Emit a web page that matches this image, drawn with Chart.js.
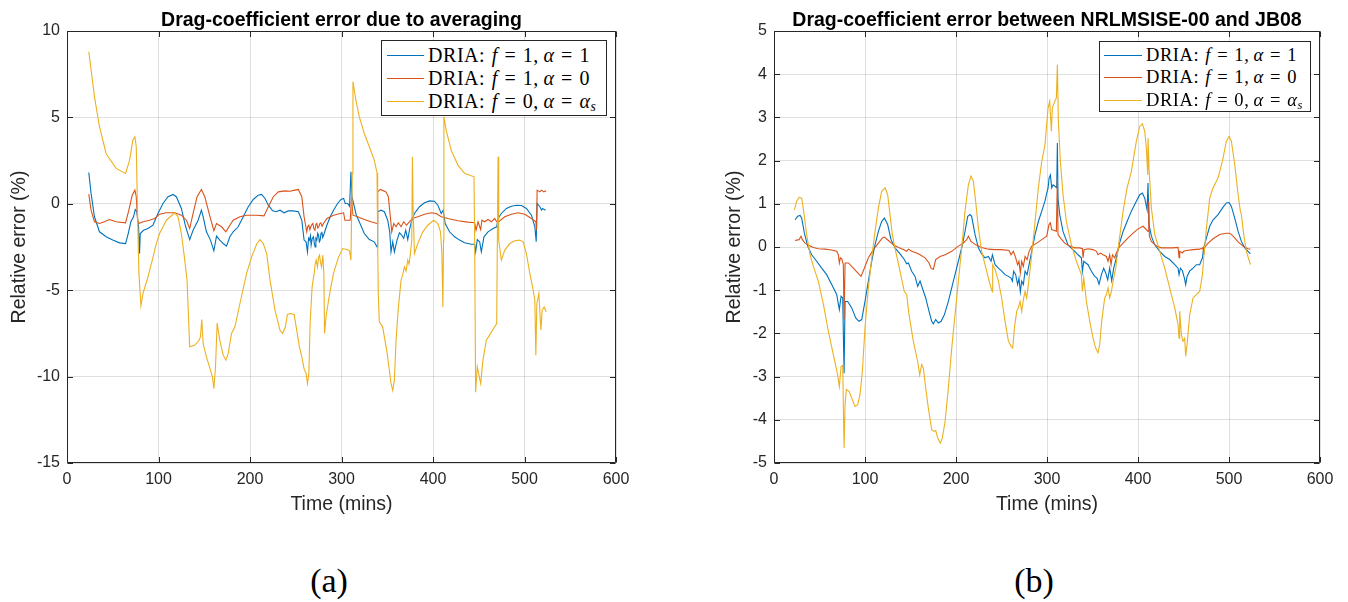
<!DOCTYPE html>
<html>
<head>
<meta charset="utf-8">
<script src="https://cdn.jsdelivr.net/npm/chart.js@4.4.1/dist/chart.umd.min.js"></script>
<style>
  html, body { margin: 0; padding: 0; background: #fff; }
  body { width: 1348px; height: 602px; position: relative; overflow: hidden; }
  canvas { position: absolute; top: 0; }
  #chartA { left: 0; }
  #chartB { left: 700px; }
  .legend { position: absolute; background: #fff; border: 1px solid #262626; box-sizing: border-box;
            font-family: 'Liberation Serif', 'DejaVu Serif', serif; color: #000; }
  .legend .row { position: absolute; left: 0; right: 0; height: 0; }
  .legend .swatch { position: absolute; height: 1px; top: 0; }
  .legend .lbl { position: absolute; top: 0; line-height: 1; transform: translateY(-50%); white-space: nowrap;
                 letter-spacing: 0.55px; word-spacing: 1px; }
  .legend sub { font-size: 0.68em; vertical-align: -0.25em; line-height: 0; }
  .panel { position: absolute; font-family: 'Liberation Serif', serif; font-size: 34px; color: #000;
           transform: translate(-50%, -50%); line-height: 1; }
</style>
</head>
<body>
<canvas id="chartA" width="700" height="540"></canvas>
<canvas id="chartB" width="648" height="540"></canvas>
<div id="legA" class="legend"></div>
<div id="legB" class="legend"></div>
<div class="panel" style="left:329px; top:581px">(a)</div>
<div class="panel" style="left:1034px; top:581px">(b)</div>

<script>
// ---- Series styling and labels -------------------------------------------
const seriesColors = ['#0072BD', '#D95319', '#EDB120'];
const seriesLabels = [
  'DRIA: <i>f</i> = 1,&thinsp;<i>α</i> = 1',
  'DRIA: <i>f</i> = 1,&thinsp;<i>α</i> = 0',
  'DRIA: <i>f</i> = 0,&thinsp;<i>α</i> = <i>α<sub>s</sub></i>'
];

// ---- Tick values ----------------------------------------------------------
const xTicks = [0, 100, 200, 300, 400, 500, 600];
const yTicksA = [-15, -10, -5, 0, 5, 10];
const yTicksB = [-5, -4, -3, -2, -1, 0, 1, 2, 3, 4, 5];

// ---- (a) Drag-coefficient error due to averaging: [time (mins), error (%)] --
const avgBlue = [[23.8,1.81],[26.3,0.6],[30,-0.75],[35.5,-1.62],[42.8,-1.91],[50,-2.1],[57.4,-2.26],[64,-2.3],[66.9,-1.72],[69.8,-1.04],[72.7,-0.75],[74.6,-0.33],[76.4,-0.46],[78.2,-1.33],[79.3,-2.88],[80,-1.72],[83.7,-1.53],[88.5,-1.43],[93.9,-1.24],[99.4,-0.56],[104.9,0.02],[110.4,0.41],[115.9,0.54],[119.5,0.41],[125,-0.27],[129.7,-1.33],[134.1,-2.07],[137.8,-1.53],[143.3,-0.95],[146.9,-0.37],[148.8,-0.75],[152.4,-1.62],[156.8,-2.1],[160.5,-2.72],[163.4,-1.87],[167,-2.1],[170.7,-2.3],[174.3,-2.45],[178,-1.91],[181.6,-1.62],[187.1,-1.33],[192.6,-0.75],[198.1,-0.17],[203.6,0.25],[209,0.5],[212.7,0.54],[216.4,0.31],[220,-0.08],[224.8,-0.41],[228.3,-0.46],[232.8,-0.37],[237.2,-0.52],[241.9,-0.41],[247.4,-0.41],[252.9,-0.46],[256.6,-0.95],[259.1,-2.1],[261.3,-2.2],[262.8,-2.78],[264,-2.0],[265,-2.1],[266,-1.85],[266.8,-2.39],[268,-2.0],[269.4,-1.91],[270.3,-2.3],[271.2,-2.49],[272,-2.0],[273,-2.1],[274,-1.7],[274.9,-1.81],[275.8,-2.2],[276.7,-2.1],[277.6,-1.7],[278.5,-1.62],[279.5,-1.95],[281.1,-1.72],[284,-1.24],[287.7,-0.75],[291.3,-0.37],[295.7,0.02],[299.4,0.25],[302.3,0.31],[304.1,0.02],[306.7,0.02],[308.8,-0.14],[310.3,1.85],[311.4,0.41],[314,-0.17],[316.2,-0.66],[319.4,-1.04],[324.9,-1.72],[330.4,-2.07],[335.8,-2.2],[338.8,-2.49],[339.5,-0.46],[343.2,-0.37],[346.8,-0.46],[350.5,-0.95],[352.7,-1.62],[354.1,-2.78],[356,-2.2],[357.8,-2.78],[360.7,-2.1],[363.3,-1.68],[365.8,-1.81],[368,-2.0],[370.2,-1.53],[372.4,-2.07],[374.6,-1.43],[376.8,-0.95],[379.7,-0.56],[385.2,-0.17],[390.7,0.06],[396.2,0.17],[401.6,0.15],[405.3,-0.08],[409,-0.56],[411.1,-0.37],[413.3,-1.14],[418.1,-1.62],[423.6,-1.91],[429.1,-2.1],[434.5,-2.26],[441.8,-2.34],[445.5,-2.34],[446.6,-2.78],[448.4,-2.07],[451,-2.2],[452.8,-2.78],[455.7,-1.91],[460.1,-1.62],[465.6,-1.43],[469.6,-1.33],[471.1,-0.85],[474.7,-0.56],[480.2,-0.27],[485.7,-0.14],[491.2,-0.08],[496.7,-0.1],[502.1,-0.27],[507.6,-0.66],[511.3,-1.33],[512.8,-2.2],[513.8,0.02],[516.8,-0.17],[518.6,-0.37],[519.7,-0.27],[523,-0.37]];

const avgRed = [[23.8,0.56],[26.3,-0.37],[30,-1.04],[35.5,-1.14],[40.9,-1.04],[46.4,-0.91],[53.7,-1.04],[64,-1.1],[67.6,-0.37],[71.3,0.5],[74.2,0.79],[75.7,0.41],[77.1,-0.95],[78.6,-1.14],[83,-1.04],[90.3,-0.95],[95.8,-0.85],[101.2,-0.6],[108.6,-0.52],[117.7,-0.52],[125,-0.66],[130.5,-0.95],[134.1,-1.43],[137.8,-0.56],[142.2,0.41],[146.9,0.83],[150.6,0.41],[155.3,-0.56],[160.5,-1.56],[163.4,-1.14],[168.9,-1.33],[173.6,-1.62],[178,-1.24],[181.6,-0.95],[189,-0.75],[196.3,-0.66],[207.2,-0.66],[215.3,-0.7],[220,-0.17],[225.5,0.41],[231,0.69],[238.3,0.75],[243.8,0.73],[249.3,0.79],[252.9,0.83],[256.6,0.41],[259.1,-0.75],[262,-1.62],[263.2,-1.3],[264.3,-1.24],[265.4,-1.5],[266.5,-1.33],[267.6,-1.2],[268.7,-1.14],[269.8,-1.45],[271,-1.53],[272,-1.2],[273,-1.14],[274.1,-1.4],[275.2,-1.33],[276.3,-1.15],[277.4,-1.1],[278.8,-1.3],[280.3,-1.14],[284,-0.85],[291.3,-0.66],[298.7,-0.56],[302.3,-0.52],[303.7,-0.95],[309.5,-0.95],[311,0.41],[312.5,-0.66],[317.6,-0.75],[324.9,-0.91],[332.2,-1.04],[338.8,-1.14],[339.5,0.69],[342.4,0.83],[348.6,0.69],[351.2,0.41],[353.4,-0.75],[354.9,-1.62],[357.1,-1.14],[359.6,-1.33],[362.2,-1.1],[365.1,-1.33],[368,-1.04],[371,-1.24],[374.2,-1.04],[377.5,-0.85],[383.4,-0.75],[390.7,-0.6],[398,-0.52],[403.5,-0.56],[409,-0.75],[416.3,-0.85],[427.2,-0.98],[438.2,-1.06],[445.5,-1.1],[447,-1.53],[449.2,-1.04],[452.1,-1.49],[453.5,-0.95],[456.5,-1.04],[460.1,-0.91],[463.8,-1.04],[467.4,-0.85],[469.6,-1.04],[471.8,-1.04],[478.4,-0.75],[485.7,-0.6],[493,-0.52],[500.3,-0.6],[507.6,-0.85],[512.4,-1.04],[513.1,-1.53],[513.8,0.79],[516.8,0.69],[518.6,0.79],[521.1,0.69],[523.7,0.75]];

const avgYellow = [[23.8,8.8],[30,6.2],[35.5,4.46],[42.8,2.9],[53.7,2.05],[64,1.76],[68.4,2.53],[72,3.69],[74.2,3.88],[75.7,3.3],[77.1,-0.56],[78.6,-4.03],[80.8,-5.9],[83,-5.19],[88.5,-4.23],[93.2,-3.26],[97.6,-2.3],[101.2,-1.72],[108.6,-0.95],[117.7,-0.52],[121.3,-0.75],[125,-1.72],[128.7,-3.26],[131.2,-4.42],[134.1,-8.28],[139.6,-8.19],[144.4,-7.9],[145.8,-7.7],[147.3,-6.7],[148.8,-8.1],[152.4,-8.86],[156.8,-9.63],[159,-10.02],[160.5,-10.7],[162.3,-9.44],[164.1,-6.9],[167,-7.9],[170.7,-8.76],[173.6,-9.05],[176.2,-8.67],[179.8,-7.5],[183.5,-7.12],[189,-5.77],[196.3,-4.03],[201.8,-3.07],[207.2,-2.34],[210.9,-2.07],[214.5,-2.3],[218.2,-2.88],[221.9,-4.42],[227.3,-6.16],[232.8,-7.32],[235.7,-7.5],[238.7,-7.12],[240.9,-6.4],[244.5,-6.35],[248.2,-6.4],[251.1,-7.32],[254,-8.28],[256.6,-8.86],[259.1,-9.54],[261.3,-9.83],[262.8,-10.4],[264.3,-9.83],[265.7,-6.93],[267.9,-4.8],[270.1,-4.03],[271.2,-3.5],[272.3,-3.26],[273.8,-3.65],[274.9,-3.1],[276,-2.97],[277.1,-3.4],[278.2,-3.65],[279.6,-2.97],[280.7,-4.03],[281.5,-7.5],[283.3,-6.45],[287.7,-5],[291.3,-4.03],[296.8,-3.07],[301.5,-2.59],[305.9,-2.64],[308.8,-2.72],[310.3,-3.26],[311.8,1.76],[312.5,7.07],[315.7,6.0],[319.4,5.04],[324.9,4.07],[330.4,3.3],[335.8,2.53],[338.8,1.8],[339.5,-2.1],[340.2,-5.19],[341.3,-6.83],[345,-7.12],[347.5,-7.9],[349.7,-8.57],[352.3,-9.63],[354.1,-10.4],[356,-10.8],[357.8,-10.2],[359.6,-7.9],[362.2,-5.97],[365.1,-4.42],[366.9,-4.1],[368.7,-3.65],[370.5,-3.9],[372.4,-3.26],[373.8,-3.5],[375.3,-2.88],[376.8,-2.1],[377.5,2.72],[378.2,-0.17],[379.7,-2.88],[383.4,-2.3],[388.8,-1.62],[394.3,-1.24],[400.9,-0.95],[405.3,-1.14],[408.2,-1.62],[409.7,-2.88],[410.8,-5.97],[411.5,-2.1],[411.9,5.04],[414.4,4.27],[419.9,3.1],[427.2,2.24],[434.5,1.76],[444.8,1.56],[445.5,-2.1],[446.6,-10.9],[448.4,-9.44],[449.9,-9.83],[452.1,-10.4],[454.6,-9.05],[458.3,-7.9],[463,-7.5],[467.4,-7.12],[469.6,-6.93],[471.1,2.72],[471.8,-2.1],[474.7,-3.26],[478.4,-2.68],[483.9,-2.3],[489.4,-2.14],[494.8,-2.1],[498.5,-2.2],[502.1,-2.88],[505.8,-4.03],[509.5,-5],[511.3,-5.58],[512.4,-8.76],[513.5,-5.77],[515.7,-5.19],[517.9,-7.32],[519.3,-6.16],[521.5,-5.97],[523.7,-6.25]];

// ---- (b) Drag-coefficient error between NRLMSISE-00 and JB08 ---------------
const jbBlue = [[23.1,0.63],[26,0.71],[28.6,0.73],[30.4,0.67],[33.4,0.32],[37,0.02],[41.4,-0.18],[46.9,-0.33],[52.4,-0.49],[57.9,-0.64],[63.4,-0.87],[68.9,-1.1],[71.8,-1.45],[73.7,-1.14],[75.5,-1.18],[77,-2.92],[78.1,-1.26],[81,-1.26],[85.4,-1.41],[89.8,-1.64],[93.4,-1.72],[96.4,-1.68],[100,-1.26],[103.7,-0.79],[107.4,-0.33],[111,0.05],[114.7,0.36],[118.3,0.59],[121.3,0.67],[124.9,0.52],[128.6,0.17],[133,-0.02],[138.5,-0.16],[143.2,-0.29],[145.8,-0.39],[147.7,-0.37],[151.3,-0.56],[155,-0.68],[157.9,-0.91],[160.5,-0.79],[163,-0.95],[166.7,-1.18],[170.4,-1.49],[173.3,-1.72],[175.1,-1.78],[177.7,-1.68],[180.6,-1.76],[183.6,-1.72],[187.2,-1.57],[191.6,-1.26],[197.1,-0.79],[202.6,-0.33],[207,0.05],[209.9,0.36],[212.9,0.71],[215.4,0.75],[217.2,0.71],[220.9,0.29],[224.6,-0.02],[228.2,-0.16],[231.9,-0.25],[235.6,-0.22],[238.5,-0.33],[240,-0.18],[242.9,-0.41],[246.6,-0.49],[250.2,-0.56],[253.9,-0.64],[257.6,-0.68],[260.5,-0.72],[261.9,-0.79],[263.4,-0.56],[265.6,-0.64],[267.7,-0.87],[269.2,-0.72],[270.7,-1.04],[272.2,-0.79],[274,-0.87],[275.9,-0.56],[278.1,-0.64],[279.5,-0.49],[283.2,-0.1],[286.9,0.29],[290.5,0.59],[294.2,0.83],[297.8,1.06],[299.3,1.21],[301.2,1.37],[302.3,1.6],[303.7,1.67],[305.2,1.37],[306.7,1.44],[309.2,1.4],[310.7,1.37],[311.4,2.41],[312.1,1.13],[314,0.75],[317.6,0.36],[323.1,0.05],[328.6,-0.06],[334.1,-0.18],[337.8,-0.25],[338.9,-0.56],[340.4,-0.33],[345.1,-0.41],[348.8,-0.56],[352.4,-0.68],[355,-0.72],[357.2,-0.86],[359.8,-0.64],[362.3,-0.49],[364.5,-0.6],[366.7,-0.76],[368.9,-0.49],[371.1,-0.78],[373.3,-0.49],[376.2,-0.25],[379.2,0.05],[383.6,0.36],[388,0.59],[392.7,0.83],[398.2,1.06],[401.9,1.21],[404.8,1.25],[407.4,1.13],[410,0.86],[411,1.48],[412.1,0.52],[414.7,0.25],[418.4,0.05],[423.9,-0.1],[429.4,-0.22],[434.9,-0.29],[440.4,-0.41],[444,-0.49],[445.1,-0.64],[446.6,-0.49],[448.8,-0.55],[451,-0.72],[452.4,-0.87],[453.9,-0.68],[456.8,-0.56],[460.5,-0.49],[464.2,-0.41],[467.8,-0.41],[470.8,-0.25],[472.2,-0.02],[475.2,0.21],[478.8,0.48],[482.5,0.63],[488,0.75],[492.7,0.9],[497.1,1.02],[500.1,1.03],[502.6,0.94],[506.3,0.67],[510,0.36],[513.6,0.13],[517.3,-0.02],[520.9,-0.1],[523.5,-0.16]];

const jbRed = [[23.1,0.15],[27.5,0.17],[29.7,0.25],[31.2,0.17],[34.1,0.09],[37.8,0.04],[43.3,-0.01],[48.7,-0.04],[56.1,-0.05],[63.4,-0.07],[68.9,-0.1],[70.7,-0.18],[71.8,-0.37],[72.9,-0.25],[74.4,-0.27],[76.2,-0.41],[77,-1.68],[78.1,-0.37],[81.7,-0.37],[87.2,-0.49],[92,-0.6],[95.6,-0.68],[99.3,-0.49],[103.7,-0.25],[109.2,-0.06],[114.7,0.09],[119.1,0.21],[121.3,0.23],[125.7,0.15],[131.2,0.05],[136.7,-0.01],[142.2,-0.06],[145.8,-0.1],[147.7,-0.05],[151.3,-0.1],[156.8,-0.14],[160.5,-0.18],[166,-0.25],[170.4,-0.37],[172.6,-0.49],[175.1,-0.52],[177.7,-0.29],[182.5,-0.22],[188,-0.18],[195.3,-0.1],[202.6,0.02],[208.1,0.09],[211.7,0.17],[213.6,0.25],[216.5,0.13],[221.6,0.05],[228.2,-0.01],[235.6,-0.05],[242.9,-0.06],[250.2,-0.06],[258.3,-0.08],[260.5,-0.18],[263,-0.1],[265.6,-0.25],[267.7,-0.41],[269.2,-0.33],[270.7,-0.6],[272.2,-0.33],[274,-0.45],[275.9,-0.22],[278.1,-0.29],[280.3,-0.1],[283.2,0.02],[288.7,0.09],[294.2,0.17],[299.7,0.25],[302.2,0.52],[303.7,0.56],[305.2,0.4],[308.5,0.38],[310.3,0.36],[311.4,1.6],[312.1,0.29],[314.7,0.21],[319.5,0.09],[325,0.02],[330.5,-0.02],[336,-0.02],[338.9,-0.04],[339.6,-0.25],[340.7,-0.06],[345.1,-0.04],[350.6,-0.06],[354.3,-0.1],[356.1,-0.18],[358.7,-0.14],[361.6,-0.18],[365.3,-0.22],[367.1,-0.33],[368.9,-0.18],[370.4,-0.41],[371.9,-0.18],[374.4,-0.25],[376.2,-0.14],[379.2,-0.01],[383.6,0.09],[389.1,0.21],[394.6,0.32],[400.1,0.42],[405.6,0.48],[409.2,0.4],[411,0.36],[411.8,1.06],[412.5,0.25],[414.7,0.13],[420.2,0.02],[425.7,-0.02],[431.2,-0.02],[438.5,-0.02],[444,-0.01],[445.1,-0.25],[445.8,-0.1],[448.8,-0.14],[450.2,-0.1],[453.2,-0.08],[460.5,-0.06],[467.8,-0.05],[471.5,-0.02],[472.2,-0.18],[473.3,-0.01],[477,0.09],[482.5,0.19],[489.8,0.29],[497.1,0.32],[500.8,0.32],[504.5,0.25],[510,0.12],[515.4,0.02],[520.9,-0.04],[523.5,-0.05]];

const jbYellow = [[22.4,0.86],[24.9,1.06],[27.5,1.15],[30.4,1.13],[32.6,0.83],[35.9,0.29],[39.6,-0.18],[43.3,-0.45],[48.7,-0.79],[54.3,-1.33],[59.7,-1.95],[65.2,-2.49],[70,-2.96],[71.8,-3.23],[73.7,-2.76],[75.5,-2.74],[77,-4.65],[78.1,-3.65],[79.5,-3.3],[82.5,-3.34],[85.4,-3.5],[89,-3.69],[92,-3.65],[94.5,-3.42],[97.1,-2.88],[100,-1.87],[103.7,-0.95],[107.4,-0.25],[111,0.36],[114.7,0.9],[118.3,1.29],[122,1.37],[124.9,1.21],[127.5,0.75],[130,0.29],[133.7,-0.1],[138.5,-0.56],[143.2,-1.03],[145.8,-1.1],[148.4,-1.57],[153.1,-2.18],[157.9,-2.65],[160.1,-2.96],[162.3,-2.72],[164.1,-2.8],[166.7,-3.26],[169.6,-3.73],[173.3,-4.23],[175.9,-4.27],[177.7,-4.25],[179.9,-4.42],[182.8,-4.54],[185,-4.42],[188,-4.04],[191.6,-3.26],[195.3,-2.34],[198.9,-1.57],[202.6,-0.79],[206.3,-0.02],[209.9,0.83],[213.6,1.44],[216.5,1.64],[219.1,1.52],[221.6,1.06],[224.6,0.44],[228.2,-0.1],[231.9,-0.41],[235.6,-0.72],[238.5,-0.95],[240,-1.04],[240.3,-0.41],[242.9,-0.52],[246.6,-0.79],[250.2,-1.18],[253.9,-1.72],[257.6,-2.18],[260.5,-2.3],[262.3,-2.34],[264.2,-1.87],[266.7,-1.49],[268.5,-1.41],[270.4,-1.26],[272.2,-1.49],[274,-1.22],[275.9,-1.03],[277.7,-1.18],[279.5,-0.87],[283.2,-0.18],[286.9,0.59],[290.5,1.37],[294.2,1.98],[297.8,2.37],[299.3,2.75],[301.2,3.22],[303,3.37],[304.8,2.68],[305.9,3.22],[308.5,3.37],[310.3,3.45],[311.4,4.22],[312.5,2.91],[314.7,1.98],[317.6,1.21],[321.3,0.59],[326.8,0.05],[332.3,-0.33],[337.8,-0.64],[338.9,-1.03],[340.4,-0.72],[343.3,-1.26],[347,-1.72],[350.6,-2.11],[353.5,-2.34],[356.1,-2.45],[357.9,-2.26],[360.1,-1.72],[363.4,-1.18],[365.3,-1.1],[367.1,-0.95],[368.9,-1.18],[370.8,-1.03],[372.6,-0.79],[375.5,-0.49],[379.2,0.13],[383.6,0.83],[388,1.37],[392.7,1.75],[398.2,2.45],[401.9,2.79],[404.8,2.85],[407.4,2.68],[409.2,2.29],[410.7,1.67],[411,2.52],[412.1,1.83],[414.7,0.9],[418.4,0.29],[423.9,-0.1],[429.4,-0.49],[434.9,-0.95],[440.4,-1.41],[444,-1.8],[445.1,-2.11],[445.8,-1.49],[447.7,-2.03],[449.5,-2.18],[451.3,-2.11],[452.4,-2.53],[453.9,-2.26],[456.8,-1.57],[460.5,-1.18],[464.2,-1.1],[467.8,-1.03],[470.8,-0.64],[472.2,-0.25],[475.2,0.44],[478.8,1.13],[482.5,1.37],[488,1.6],[492.7,1.98],[497.1,2.45],[500.1,2.56],[502.6,2.45],[506.3,1.91],[510,1.21],[512.5,0.83],[513.6,0.75],[516.2,0.29],[519.1,-0.1],[523.5,-0.41]];

// ---- Axes frame: full box with inward tick marks on all four sides --------
const axesFrame = {
  id: 'axesFrame',
  afterDatasetsDraw(chart) {
    const { ctx, chartArea: a, scales: { x, y } } = chart;
    const L = Math.round(a.left) + 0.5, R = Math.round(a.right) - 0.5;
    const T = Math.round(a.top) + 0.5, B = Math.round(a.bottom) - 0.5;
    const tl = 5.5;
    ctx.save();
    ctx.strokeStyle = '#262626';
    ctx.lineWidth = 1;
    ctx.beginPath();
    ctx.rect(L, T, R - L, B - T);
    x.ticks.forEach(t => {
      const px = Math.round(x.getPixelForValue(t.value)) + 0.5;
      ctx.moveTo(px, B); ctx.lineTo(px, B - tl);
      ctx.moveTo(px, T); ctx.lineTo(px, T + tl);
    });
    y.ticks.forEach(t => {
      const py = Math.round(y.getPixelForValue(t.value)) + 0.5;
      ctx.moveTo(L, py); ctx.lineTo(L + tl, py);
      ctx.moveTo(R, py); ctx.lineTo(R - tl, py);
    });
    ctx.stroke();
    ctx.restore();
  }
};

const gridColor = 'rgba(38,38,38,0.15)';
const sansFont = "'Liberation Sans', Arial, sans-serif";

function toPoints(pairs) { return pairs.map(p => ({ x: p[0], y: p[1] })); }

function makeChart(canvasId, cfg) {
  const datasets = cfg.series.map((s, i) => ({
    label: cfg.names[i],
    data: toPoints(s),
    borderColor: seriesColors[i],
    borderWidth: 1.1,
    pointRadius: 0,
    tension: 0,
    fill: false,
    order: 2 - i
  }));
  return new Chart(document.getElementById(canvasId), {
    type: 'line',
    data: { datasets },
    options: {
      responsive: false,
      animation: false,
      events: [],
      layout: { padding: { left: 0, top: 0, right: cfg.padRight, bottom: 0 } },
      plugins: {
        legend: { display: false },
        tooltip: { enabled: false },
        title: {
          display: true, text: cfg.title, fullSize: false, color: '#000',
          font: { family: sansFont, size: 19.5, weight: 'bold', lineHeight: 1 },
          padding: { top: 11, bottom: 0.5 }
        }
      },
      scales: {
        x: {
          type: 'linear', min: 0, max: 600,
          afterBuildTicks: s => { s.ticks = xTicks.map(v => ({ value: v })); },
          afterFit: s => { s.height = 77; },
          grid: { color: gridColor, lineWidth: 1, drawTicks: false },
          border: { display: false },
          ticks: { padding: 7, color: '#262626', maxRotation: 0, autoSkip: false,
                   font: { family: sansFont, size: 16 }, callback: v => String(v) },
          title: { display: true, text: 'Time (mins)', color: '#262626',
                   font: { family: sansFont, size: 19.5, lineHeight: 1.2 },
                   padding: { top: 0, bottom: 23.5 } }
        },
        y: {
          type: 'linear', min: cfg.yTicks[0], max: cfg.yTicks[cfg.yTicks.length - 1],
          afterBuildTicks: s => { s.ticks = cfg.yTicks.map(v => ({ value: v })); },
          afterFit: s => { s.width = cfg.yAxisW; },
          grid: { color: gridColor, lineWidth: 1, drawTicks: false },
          border: { display: false },
          ticks: { padding: 7, color: '#262626', autoSkip: false,
                   font: { family: sansFont, size: 16 }, callback: v => String(v) },
          title: { display: true, text: 'Relative error (%)', color: '#262626',
                   font: { family: sansFont, size: 19.5, lineHeight: 1.2 },
                   padding: { top: cfg.yTitlePad, bottom: 0 } }
        }
      }
    },
    plugins: [axesFrame]
  });
}

const plainNames = ['DRIA: f = 1, α = 1', 'DRIA: f = 1, α = 0', 'DRIA: f = 0, α = α_s'];

makeChart('chartA', {
  title: 'Drag-coefficient error due to averaging',
  series: [avgBlue, avgRed, avgYellow],
  names: plainNames,
  yTicks: yTicksA,
  yAxisW: 67, padRight: 84, yTitlePad: 8.3
});

makeChart('chartB', {
  title: 'Drag-coefficient error between NRLMSISE-00 and JB08',
  series: [jbBlue, jbRed, jbYellow],
  names: plainNames,
  yTicks: yTicksB,
  yAxisW: 74, padRight: 28, yTitlePad: 23.3
});

// ---- Legends (boxed, upper right of each axes) ---------------------------
function buildLegend(id, box) {
  const el = document.getElementById(id);
  Object.assign(el.style, {
    left: box.left + 'px', top: box.top + 'px',
    width: box.width + 'px', height: box.height + 'px', fontSize: box.font + 'px'
  });
  seriesLabels.forEach((html, i) => {
    const row = document.createElement('div');
    row.className = 'row';
    row.style.top = box.rows[i] + 'px';
    const sw = document.createElement('span');
    sw.className = 'swatch';
    sw.style.left = box.lineLeft + 'px';
    sw.style.width = box.lineWidth + 'px';
    sw.style.background = seriesColors[i];
    const lbl = document.createElement('span');
    lbl.className = 'lbl';
    lbl.style.left = box.textLeft + 'px';
    lbl.innerHTML = html;
    row.appendChild(sw);
    row.appendChild(lbl);
    el.appendChild(row);
  });
}

buildLegend('legA', { left: 381, top: 40, width: 226, height: 76, font: 20,
                      rows: [14, 37, 60], lineLeft: 5, lineWidth: 37, textLeft: 46 });
buildLegend('legB', { left: 1099, top: 41, width: 212, height: 71, font: 18.5,
                      rows: [13, 35, 58], lineLeft: 4, lineWidth: 38, textLeft: 46 });
</script>
</body>
</html>
